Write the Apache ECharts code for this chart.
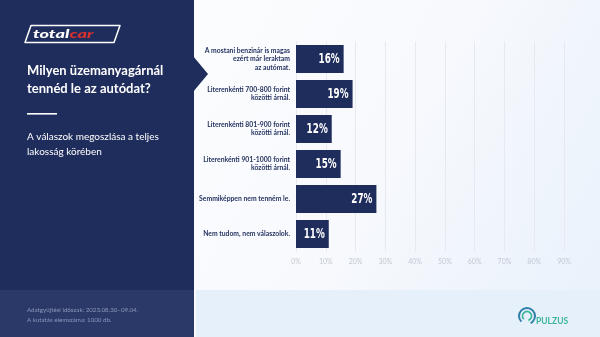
<!DOCTYPE html>
<html><head><meta charset="utf-8">
<script src="https://cdn.jsdelivr.net/npm/echarts@6/dist/echarts.min.js"></script>
<style>html,body{margin:0;padding:0;}#c{width:600px;height:337px;}</style>
</head><body><div id="c"></div>
<script>
const categories = [
  'A mostani benzinár is magas\nezért már leraktam\naz autómat.',
  'Literenkénti 700-800 forint\nközötti árnál.',
  'Literenkénti 801-900 forint\nközötti árnál.',
  'Literenkénti 901-1000 forint\nközötti árnál.',
  'Semmiképpen nem tenném le.',
  'Nem tudom, nem válaszolok.'
];
const values = [16, 19, 12, 15, 27, 11];
const axisMax = 90;
const axisStep = 10;
const titleLines = 'Milyen üzemanyagárnál\ntennéd le az autódat?';
const subtitleLines = 'A válaszok megoszlása a teljes\nlakosság körében';
const footerLines = 'Adatgyűjtési időszak: 2023.08.30–09.04.\nA kutatás elemszáma: 1000 db.';

const NAVY = '#1f2d5c';
const chart = echarts.init(document.getElementById('c'));
chart.setOption({
  backgroundColor: {
    type: 'linear', x: 0, y: 0, x2: 1, y2: 1,
    colorStops: [{offset: 0, color: '#ffffff'}, {offset: 0.6, color: '#f7f9fd'}, {offset: 1, color: '#e8f1fb'}]
  },
  animation: false,
  grid: {left: 296, right: 36, top: 41.5, bottom: 85.5, containLabel: false},
  xAxis: {
    type: 'value', min: 0, max: axisMax, interval: axisStep,
    axisLabel: {formatter: '{value}%', color: '#c2c8d2', fontSize: 7, fontFamily: 'Lato', margin: 7},
    axisLine: {show: false}, axisTick: {show: false},
    splitLine: {lineStyle: {color: '#e6e9ef', width: 1}}
  },
  yAxis: {
    type: 'category', inverse: true, data: categories,
    axisLine: {show: false}, axisTick: {show: false},
    axisLabel: {color: NAVY, fontSize: 6.8, fontWeight: 'bold', fontFamily: 'Lato', lineHeight: 8.5, margin: 6, align: 'right'}
  },
  series: [{
    type: 'bar', data: values, barWidth: 28,
    itemStyle: {color: NAVY}
  }, {
    type: 'custom',
    data: values.map((v, i) => [v, i]),
    encode: {x: 0, y: 1},
    z: 5,
    renderItem: function (params, api) {
      const pt = api.coord([api.value(0), api.value(1)]);
      return {
        type: 'text', x: pt[0] - 4, y: pt[1] + 0.5, scaleX: 0.63,
        style: {text: api.value(0) + '%', align: 'right', verticalAlign: 'middle', fill: '#ffffff',
          fontSize: 14, fontWeight: 'bold', fontFamily: '"DejaVu Sans"'}
      };
    }
  }],
  graphic: [
    {type: 'rect', shape: {x: 0, y: 0, width: 194, height: 290}, style: {fill: NAVY}},
    {type: 'rect', shape: {x: 0, y: 290, width: 194, height: 47}, style: {fill: '#2b3968'}},
    {type: 'rect', shape: {x: 196, y: 290, width: 404, height: 47}, style: {fill: '#e6f0fb'}},
    {type: 'polygon', shape: {points: [[193, 56], [208, 74], [193, 92]]}, style: {fill: NAVY}},
    {type: 'polygon', shape: {points: [[31, 25.5], [120, 25.5], [114, 42.5], [25, 42.5]]}, style: {fill: 'none', stroke: '#ffffff', lineWidth: 1.5, lineJoin: 'round'}},
    {type: 'text', x: 33, y: 34.5, scaleX: 1.65, style: {
      text: '{a|total}{b|car}', verticalAlign: 'middle',
      rich: {a: {fill: '#ffffff', fontSize: 11, fontWeight: 900, fontStyle: 'italic', fontFamily: 'Lato'},
             b: {fill: '#d8302e', fontSize: 11, fontWeight: 900, fontStyle: 'italic', fontFamily: 'Lato'}}
    }},
    {type: 'text', x: 27, y: 62, style: {text: titleLines, fill: '#ffffff', fontSize: 13, fontWeight: 'bold', fontFamily: 'Lato', lineHeight: 18}},
    {type: 'rect', shape: {x: 27, y: 113, width: 30, height: 1.6}, style: {fill: '#ffffff'}},
    {type: 'text', x: 27, y: 129, style: {text: subtitleLines, fill: '#ffffff', fontSize: 10, fontFamily: 'Lato', lineHeight: 15}},
    {type: 'text', x: 27, y: 305, style: {text: footerLines, fill: '#8b97bd', fontSize: 6.2, fontFamily: 'Lato', lineHeight: 10}},
    {type: 'arc', shape: {cx: 527, cy: 316, r: 8, startAngle: Math.PI * 0.75, endAngle: Math.PI * 0.35}, style: {fill: 'none', stroke: '#2f7fa8', lineWidth: 2}},
    {type: 'arc', shape: {cx: 527, cy: 316, r: 4.5, startAngle: Math.PI * 0.75, endAngle: Math.PI * 0.4}, style: {fill: 'none', stroke: '#3bb69a', lineWidth: 1.8}},
    {type: 'text', x: 536, y: 321, style: {text: 'PULZUS', fill: '#3bb69a', fontSize: 8.5, fontWeight: 'bold', fontFamily: 'Lato', verticalAlign: 'middle'}}
  ]
});
</script></body></html>
